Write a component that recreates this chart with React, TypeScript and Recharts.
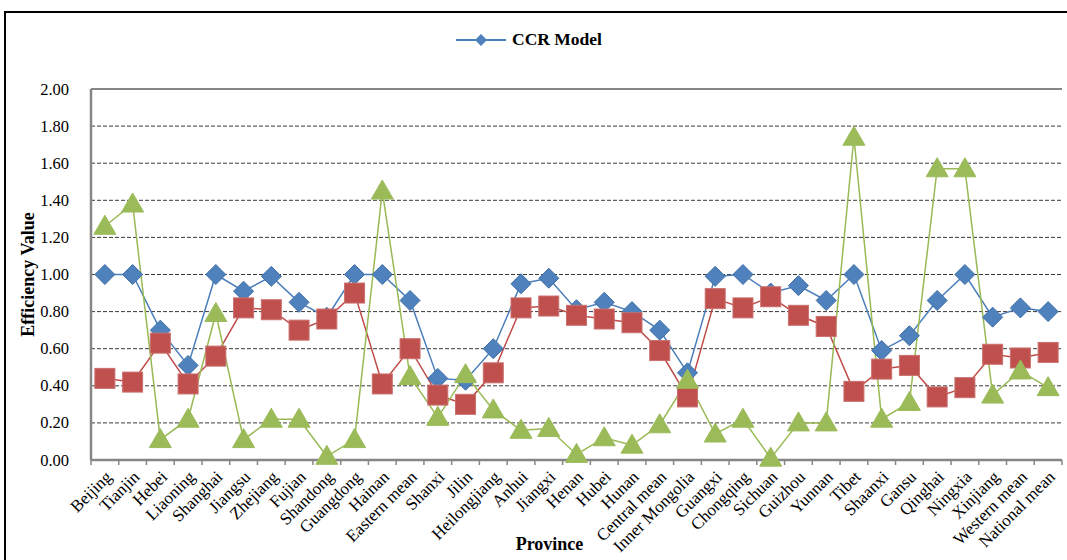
import React from 'react';
import { LineChart, Line, XAxis, YAxis, CartesianGrid, ReferenceLine } from 'recharts';

const provinces = [
  'Beijing', 'Tianjin', 'Hebei', 'Liaoning', 'Shanghai', 'Jiangsu', 'Zhejiang', 'Fujian', 'Shandong',
  'Guangdong', 'Hainan', 'Eastern mean', 'Shanxi', 'Jilin', 'Heilongjiang', 'Anhui', 'Jiangxi', 'Henan',
  'Hubei', 'Hunan', 'Central mean', 'Inner Mongolia', 'Guangxi', 'Chongqing', 'Sichuan', 'Guizhou',
  'Yunnan', 'Tibet', 'Shaanxi', 'Gansu', 'Qinghai', 'Ningxia', 'Xinjiang', 'Western mean', 'National mean',
];

const ccr = [
  1.0, 1.0, 0.7, 0.51, 1.0, 0.91, 0.99, 0.85, 0.77, 1.0, 1.0, 0.86, 0.44, 0.43, 0.6, 0.95, 0.98, 0.81,
  0.85, 0.8, 0.7, 0.47, 0.99, 1.0, 0.9, 0.94, 0.86, 1.0, 0.59, 0.67, 0.86, 1.0, 0.77, 0.82, 0.8,
];

const seriesB = [
  0.44, 0.42, 0.63, 0.41, 0.56, 0.82, 0.81, 0.7, 0.76, 0.9, 0.41, 0.6, 0.35, 0.3, 0.47, 0.82, 0.83, 0.78,
  0.76, 0.74, 0.59, 0.34, 0.87, 0.82, 0.88, 0.78, 0.72, 0.37, 0.49, 0.51, 0.34, 0.39, 0.57, 0.55, 0.58,
];

const seriesC = [
  1.26, 1.38, 0.11, 0.22, 0.79, 0.11, 0.22, 0.22, 0.02, 0.11, 1.45, 0.45, 0.23, 0.46, 0.27, 0.16, 0.17, 0.03,
  0.12, 0.08, 0.19, 0.43, 0.14, 0.22, 0.01, 0.2, 0.2, 1.74, 0.22, 0.31, 1.57, 1.57, 0.35, 0.48, 0.39,
];

const yTicks = [0, 0.2, 0.4, 0.6, 0.8, 1.0, 1.2, 1.4, 1.6, 1.8, 2.0];

const data = provinces.map((p, i) => ({ name: p, ccr: ccr[i], b: seriesB[i], c: seriesC[i] }));

const W = 1067;
const H = 560;
const PLOT_L = 91;
const PLOT_R = 1062;
const STEP = (PLOT_R - PLOT_L) / provinces.length;
const FONT = '"Liberation Serif", "Times New Roman", serif';

const Diamond = (props: any) => {
  const { cx, cy } = props;
  if (cx == null || cy == null) return null;
  const r = 10;
  return <polygon points={`${cx},${cy - r} ${cx + r},${cy} ${cx},${cy + r} ${cx - r},${cy}`} fill="#4f81bd" stroke="#3d6fa8" strokeWidth={1} />;
};

const Square = (props: any) => {
  const { cx, cy } = props;
  if (cx == null || cy == null) return null;
  const s = 10;
  return <rect x={cx - s} y={cy - s} width={s * 2} height={s * 2} fill="#c0504d" stroke="#c9706e" strokeWidth={1} />;
};

const Triangle = (props: any) => {
  const { cx, cy } = props;
  if (cx == null || cy == null) return null;
  return <polygon points={`${cx},${cy - 11} ${cx + 11},${cy + 8} ${cx - 11},${cy + 8}`} fill="#9bbb59" stroke="#9bbb59" strokeWidth={1} />;
};

const XTick = (props: any) => {
  const { x, y, payload, index } = props;
  return (
    <g>
      {index === 0 && <line x1={x - STEP / 2} y1={y - 8} x2={x - STEP / 2} y2={y - 3} stroke="#868686" strokeWidth={1.5} />}
      <line x1={x + STEP / 2} y1={y - 8} x2={x + STEP / 2} y2={y - 3} stroke="#868686" strokeWidth={1.5} />
      <text
        x={x + 4}
        y={y + 6}
        transform={`rotate(-45 ${x + 4} ${y + 6})`}
        textAnchor="end"
        dominantBaseline="central"
        fontFamily={FONT}
        fontSize={17}
        fill="#000"
      >
        {payload.value}
      </text>
    </g>
  );
};

const YTick = (props: any) => {
  const { x, y, payload } = props;
  return (
    <text x={x} y={y} textAnchor="end" dominantBaseline="central" fontFamily={FONT} fontSize={16.5} fill="#000">
      {Number(payload.value).toFixed(2)}
    </text>
  );
};

const LegendBox = () => (
  <div
    style={{
      position: 'absolute',
      left: 456,
      top: 29,
      display: 'flex',
      alignItems: 'center',
      fontFamily: FONT,
    }}
  >
    <svg width={50} height={20}>
      <line x1={0} y1={10} x2={50} y2={10} stroke="#4a7ebb" strokeWidth={2} />
      <polygon points="25,4 31,10 25,16 19,10" fill="#4f81bd" />
    </svg>
    <span style={{ marginLeft: 6, fontSize: 17.5, fontWeight: 'bold' }}>CCR Model</span>
  </div>
);

export default function App() {
  return (
    <div style={{ position: 'absolute', left: 0, top: 0, width: W, height: H, background: '#fff', overflow: 'hidden' }}>
      <div
        style={{
          position: 'absolute',
          left: 4,
          top: 11,
          width: W + 10,
          height: H + 10,
          border: '2px solid #000',
          boxSizing: 'border-box',
        }}
      />
      <div style={{ position: 'absolute', left: 0, top: 0 }}>
        <LineChart width={W} height={H} data={data} margin={{ top: 89, right: W - PLOT_R, left: 0, bottom: 0 }}>
          <CartesianGrid vertical={false} stroke="#3a3a3a" strokeDasharray="4 2" horizontalValues={[0.2, 0.4, 0.6, 0.8, 1.0, 1.2, 1.4, 1.6, 1.8]} />
          <XAxis
            dataKey="name"
            interval={0}
            height={100}
            padding={{ left: STEP / 2, right: STEP / 2 }}
            tickLine={false}
            axisLine={{ stroke: '#868686', strokeWidth: 2.5 }}
            tick={<XTick />}
            label={{ value: 'Province', position: 'insideBottom', offset: 10, dx: -27, fontFamily: FONT, fontSize: 18, fontWeight: 'bold', fill: '#000' }}
          />
          <YAxis
            domain={[0, 2]}
            ticks={yTicks}
            width={PLOT_L}
            tickLine={false}
            tickMargin={16}
            axisLine={{ stroke: '#868686', strokeWidth: 2.5 }}
            tick={<YTick />}
            label={{ value: 'Efficiency Value', angle: -90, position: 'insideLeft', offset: 28, fontFamily: FONT, fontSize: 18, fontWeight: 'bold', fill: '#000', style: { textAnchor: 'middle' } }}
          />
          <YAxis yAxisId="right" orientation="right" width={0} tick={false} tickLine={false} axisLine={{ stroke: '#868686', strokeWidth: 2 }} />
          <ReferenceLine y={2} stroke="#868686" strokeWidth={2} />
          <Line dataKey="ccr" name="CCR Model" stroke="#4a7ebb" strokeWidth={1.5} dot={<Diamond />} activeDot={false} isAnimationActive={false} />
          <Line dataKey="b" legendType="none" stroke="#be4b48" strokeWidth={1.5} dot={<Square />} activeDot={false} isAnimationActive={false} />
          <Line dataKey="c" legendType="none" stroke="#98b954" strokeWidth={1.5} dot={<Triangle />} activeDot={false} isAnimationActive={false} />
        </LineChart>
      </div>
      <LegendBox />
    </div>
  );
}
